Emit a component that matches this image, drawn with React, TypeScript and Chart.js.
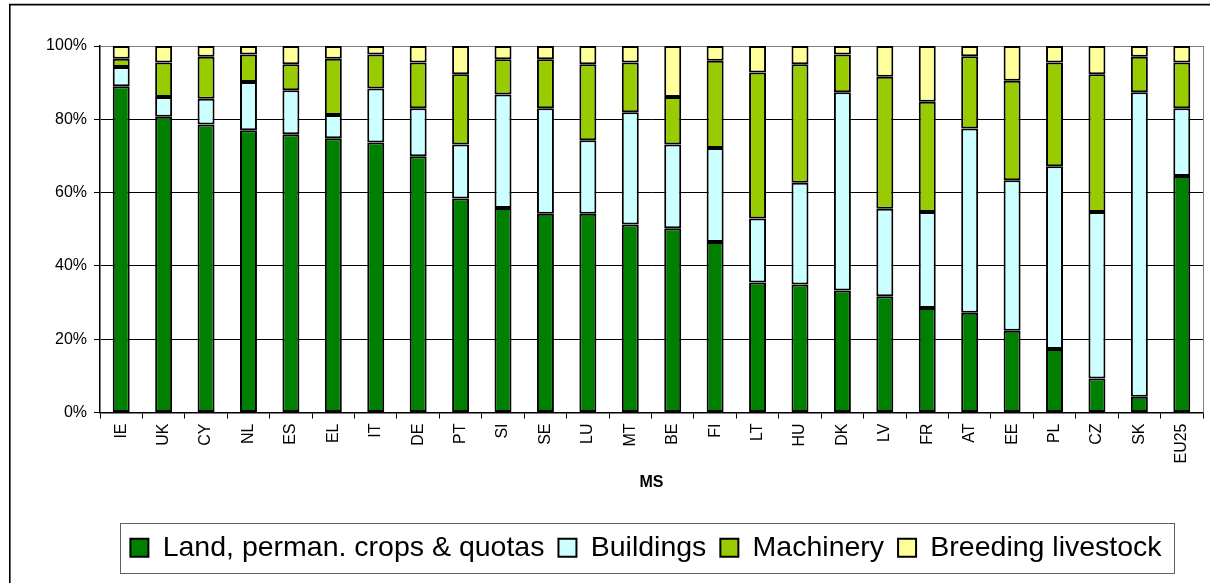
import { useEffect, useRef } from "react";
import { Chart, registerables } from "chart.js";

Chart.register(...registerables);

// Member states, sorted by share of land
const memberStates = [
  "IE", "UK", "CY", "NL", "ES", "EL", "IT", "DE", "PT", "SI", "SE", "LU", "MT",
  "BE", "FI", "LT", "HU", "DK", "LV", "FR", "AT", "EE", "PL", "CZ", "SK", "EU25",
];

// Shares of total assets (%)
const landShare = [
  89.0, 80.7, 78.6, 77.0, 75.9, 74.8, 73.7, 69.9, 58.4, 55.8, 54.2, 54.2, 51.3,
  50.3, 46.5, 35.5, 34.9, 33.3, 31.7, 28.5, 27.2, 22.3, 17.3, 9.3, 4.3, 64.5,
];
const buildingsShare = [
  5.3, 5.4, 7.0, 13.2, 12.0, 6.4, 14.7, 13.1, 14.7, 31.0, 28.8, 20.1, 30.6,
  22.8, 25.7, 17.4, 27.8, 54.1, 23.9, 26.2, 50.3, 41.1, 49.9, 45.4, 83.1, 18.5,
];
const machineryShare = [
  2.2, 9.4, 11.5, 7.5, 7.1, 15.3, 9.3, 12.5, 19.2, 9.6, 13.4, 20.7, 13.6,
  13.0, 23.8, 39.9, 32.3, 10.3, 36.0, 30.1, 19.7, 27.1, 28.3, 37.6, 9.7, 12.5,
];
const livestockShare = [
  3.5, 4.5, 2.9, 2.3, 5.0, 3.5, 2.3, 4.5, 7.7, 3.6, 3.6, 5.0, 4.5,
  13.9, 4.0, 7.2, 5.0, 2.3, 8.4, 15.2, 2.8, 9.5, 4.5, 7.7, 2.9, 4.5,
];

const yTicks = [0, 20, 40, 60, 80, 100];

const FONT = "Arial, 'Liberation Sans', sans-serif";

// White page, outer frame, plot-area border and a box around the legend
const decorations = {
  id: "decorations",
  afterLayout(chart: any) {
    // centre the legend row a little to the right of the page centre
    const lg = chart.legend;
    if (lg) {
      lg.left = 89;
      lg.width = lg.right - lg.left;
    }
  },
  beforeDraw(chart: any) {
    const { ctx, width, height } = chart;
    ctx.save();
    ctx.fillStyle = "#ffffff";
    ctx.fillRect(0, 0, width, height);
    ctx.restore();
  },
  afterDraw(chart: any) {
    const { ctx, chartArea: a } = chart;
    ctx.save();
    ctx.strokeStyle = "#808080";
    ctx.lineWidth = 1;
    ctx.beginPath();
    ctx.moveTo(a.right + 0.5, a.top);
    ctx.lineTo(a.right + 0.5, a.bottom);
    ctx.stroke();

    ctx.strokeStyle = "#000000";
    ctx.lineWidth = 1.6;
    ctx.beginPath();
    ctx.moveTo(9.8, chart.height);
    ctx.lineTo(9.8, 4.6);
    ctx.lineTo(chart.width, 4.6);
    ctx.stroke();

    const hb = chart.legend && chart.legend.legendHitBoxes;
    if (hb && hb.length) {
      const first = hb[0];
      const last = hb[hb.length - 1];
      const cy = first.top + first.height / 2;
      const left = Math.round(first.left - 10) + 0.5;
      const right = Math.round(last.left + last.width + 12) + 0.5;
      ctx.strokeStyle = "#606060";
      ctx.lineWidth = 1;
      ctx.strokeRect(left, Math.round(cy - 25) + 0.5, right - left, 50);
    }
    ctx.restore();
  },
};

export default function App() {
  const canvasRef = useRef<HTMLCanvasElement | null>(null);

  useEffect(() => {
    const canvas = canvasRef.current;
    if (!canvas) return;

    const seriesStyle = {
      borderColor: "#000000",
      borderWidth: 2,
      borderSkipped: false as const,
      barPercentage: 0.4,
      categoryPercentage: 1,
    };

    const chart = new Chart(canvas, {
      type: "bar",
      data: {
        labels: memberStates,
        datasets: [
          { label: "Land, perman. crops & quotas", data: landShare, backgroundColor: "#008000", ...seriesStyle },
          { label: "Buildings", data: buildingsShare, backgroundColor: "#CCFFFF", ...seriesStyle },
          { label: "Machinery", data: machineryShare, backgroundColor: "#99CC00", ...seriesStyle },
          { label: "Breeding livestock", data: livestockShare, backgroundColor: "#FFFF99", ...seriesStyle },
        ],
      },
      options: {
        responsive: false,
        animation: false,
        devicePixelRatio: 1,
        layout: { padding: { left: 0, right: 7, top: 46, bottom: 11 } },
        plugins: {
          tooltip: { enabled: false },
          legend: {
            position: "bottom",
            labels: {
              color: "#000000",
              font: { family: FONT, size: 28.5 },
              boxWidth: 18,
              boxHeight: 18,
              padding: 14,
            },
          },
        },
        scales: {
          x: {
            stacked: true,
            afterFit: (scale: any) => {
              scale.height = 107;
            },
            grid: {
              display: true,
              drawOnChartArea: false,
              drawTicks: true,
              offset: true,
              tickLength: 6,
              color: "#000000",
            },
            border: { display: true, color: "#000000", width: 1.5 },
            ticks: {
              autoSkip: false,
              minRotation: 90,
              maxRotation: 90,
              padding: 5,
              color: "#000000",
              font: { family: FONT, size: 16 },
            },
            title: {
              display: true,
              text: "MS",
              color: "#000000",
              font: { family: FONT, size: 16, weight: "bold" },
              padding: { top: 0, bottom: 27 },
            },
          },
          y: {
            stacked: true,
            min: 0,
            max: 100,
            afterFit: (scale: any) => {
              scale.width = 100;
            },
            afterBuildTicks: (scale: any) => {
              scale.ticks = yTicks.map((v) => ({ value: v }));
            },
            grid: {
              color: (c: any) => (c.tick && c.tick.value === 100 ? "#808080" : "#000000"),
              tickColor: "#000000",
              tickLength: 6,
              lineWidth: 1,
            },
            border: { display: true, color: "#000000", width: 1.5 },
            ticks: {
              padding: 7,
              color: "#000000",
              font: { family: FONT, size: 16 },
              callback: (v: any) => `${v}%`,
            },
          },
        },
      },
      plugins: [decorations],
    });

    return () => chart.destroy();
  }, []);

  return (
    <div style={{ position: "fixed", left: 0, top: 0, width: 1210, height: 583, background: "#fff" }}>
      <canvas ref={canvasRef} width={1210} height={583} style={{ display: "block" }} />
    </div>
  );
}
